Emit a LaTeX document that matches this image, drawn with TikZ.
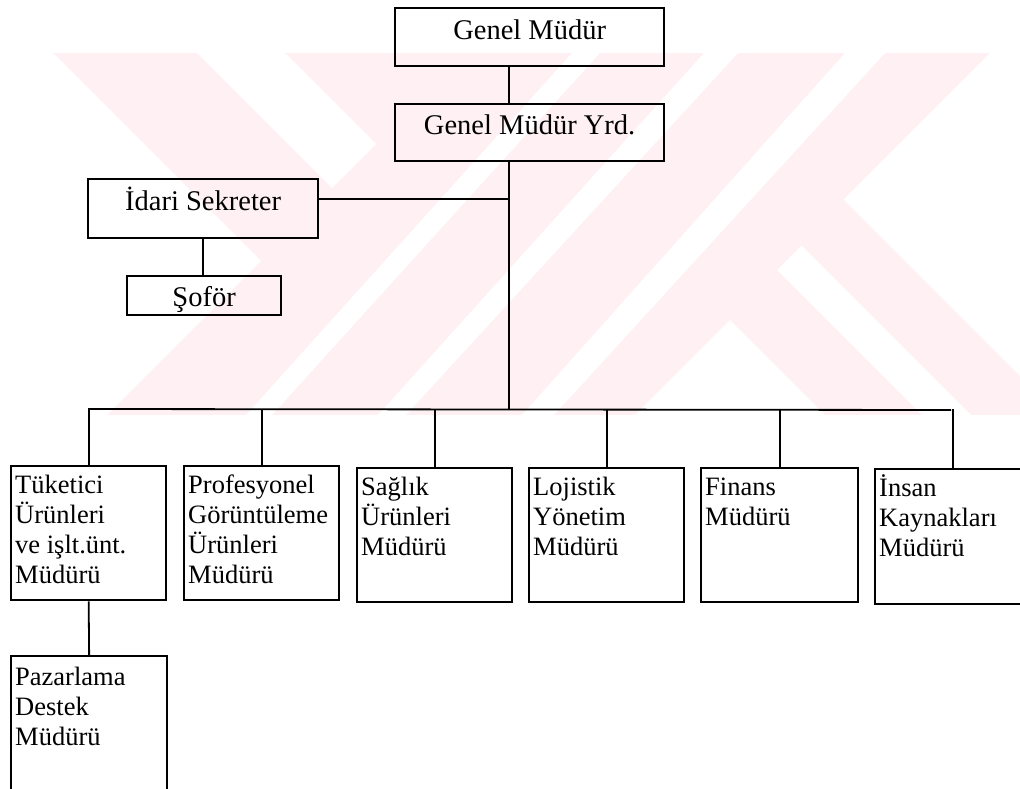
\documentclass[tikz,border=0pt]{standalone}
\usepackage{fontspec}
\setmainfont{Liberation Serif}
\usetikzlibrary{calc}
\definecolor{wm}{RGB}{254,240,243}
\begin{document}
\begin{tikzpicture}[x=1pt,y=-1pt,
  topbox/.style={draw, line width=2.3pt, anchor=north west, inner sep=0pt,
    font=\fontsize{28.5}{32}\selectfont, text height=20pt, text depth=16pt},
  cbox/.style={draw, line width=2.3pt, anchor=north west, minimum width=155pt,
    minimum height=134pt, inner sep=0pt},
  ctext/.style={anchor=north west, inner sep=0pt, align=left,
    font=\fontsize{26.5}{30}\selectfont},
  link/.style={line width=1.8pt}]
\useasboundingbox (0,0) rectangle (1020,789);
\fill[white] (0,0) rectangle (1020,789);
% watermark
\begin{scope}
  \clip (53,53) rectangle (1020,415);
  \fill[wm] (53,53) rectangle (1020,415);
  \fill[white] (0,53) -- (53,53) -- (261,261) -- (107,415) -- (0,415) -- cycle;
  \fill[white] (197,53) -- (285,53) -- (376,144) -- (332,188) -- cycle;
  \fill[white] (572,53) -- (600,53) -- (272,415) -- (246,415) -- cycle;
  \fill[white] (704,53) -- (738,53) -- (406,415) -- (378,415) -- cycle;
  \fill[white] (845,53) -- (885,53) -- (554,415) -- (522,415) -- cycle;
  \fill[white] (990,53) -- (1020,53) -- (1020,376) -- (843.5,199.5) -- cycle;
  \fill[white] (777,270) -- (801.5,245.5) -- (971,415) -- (922,415) -- cycle;
  \fill[white] (730,320) -- (825,415) -- (635,415) -- cycle;
\end{scope}
% top boxes
\node[topbox, minimum width=269pt, minimum height=58pt] (gm) at (394,7) {Genel Müdür};
\node[topbox, minimum width=269pt, minimum height=57pt] (gmy) at (394,103) {Genel Müdür Yrd.};
\node[topbox, minimum width=230pt, minimum height=59pt] (ids) at (87,178) {İdari Sekreter};
\node[topbox, minimum width=154pt, minimum height=39pt, text height=29pt, text depth=8pt] (sof) at (126,275) {Şoför};
% child boxes
\node[cbox] (c1) at (10,465) {};
\node[cbox] (c2) at (183,465) {};
\node[cbox] (c3) at (356,467) {};
\node[cbox] (c4) at (528,467) {};
\node[cbox, minimum width=157pt] (c5) at (700,467) {};
\node[cbox, minimum width=156pt, minimum height=135pt] (c6) at (874,468) {};
\node[cbox, minimum width=156pt, minimum height=150pt] (paz) at (10,655) {};
% child texts
\node[ctext] (t1) at (15,469) {\rule{0pt}{24pt}Tüketici\\Ürünleri\\ve işlt.ünt.\\Müdürü};
\node[ctext] (t2) at (188,469) {\rule{0pt}{24pt}Profesyonel\\Görüntüleme\\Ürünleri\\Müdürü};
\node[ctext] (t3) at (361,471) {\rule{0pt}{24pt}Sağlık\\Ürünleri\\Müdürü};
\node[ctext] (t4) at (533,471) {\rule{0pt}{24pt}Lojistik\\Yönetim\\Müdürü};
\node[ctext] (t5) at (705,471) {\rule{0pt}{24pt}Finans\\Müdürü};
\node[ctext] (t6) at (879,472) {\rule{0pt}{24pt}İnsan\\Kaynakları\\Müdürü};
\node[ctext] (t7) at (15,661) {\rule{0pt}{24pt}Pazarlama\\Destek\\Müdürü};
% connectors
\coordinate (tk) at (509,199);
\coordinate (bl) at (88,409);
\coordinate (br) at (951,410);
\draw[link] (gm.south -| tk) -- (gmy.north -| tk);
\draw[link] (gmy.south -| tk) -- (tk |- bl);
\draw[link] (ids.east |- tk) -- (tk);
\draw[link] (ids.south) -- (ids.south |- sof.north);
\draw[link] (bl) -- (br);
\foreach \c in {c1,c2,c3,c4,c5,c6}{
  \draw[link] (\c.north |- bl) -- (\c.north);
}
\draw[link] (c1.south) -- (paz.north);
\end{tikzpicture}
\end{document}
